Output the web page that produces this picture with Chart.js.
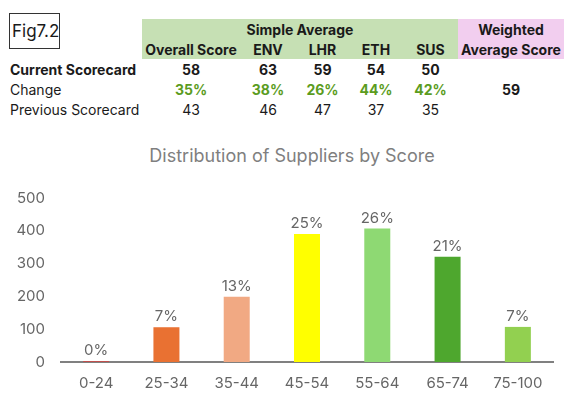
<!DOCTYPE html>
<html>
<head>
<meta charset="utf-8">
<script src="https://cdn.jsdelivr.net/npm/chart.js@4.4.1/dist/chart.umd.min.js"></script>
<style>
  html, body { margin: 0; padding: 0; background: #fff; }
  body { width: 588px; height: 400px; position: relative; overflow: hidden; font-family: Inter, "Liberation Sans", sans-serif; color: #1a1a1a; }
  #fig { position: absolute; left: 9px; top: 13px; width: 47px; height: 34px; border: 1px solid #333; font-size: 17px; line-height: 34px; padding-left: 2px; box-sizing: content-box; }
  #scores { position: absolute; left: 0; top: 19px; border-collapse: collapse; table-layout: fixed; font-size: 14px; }
  #scores td { padding: 0; height: 20px; text-align: center; white-space: nowrap; }
  #scores td.lab { text-align: left; padding-left: 10px; }
  #scores .g { background: #c6e0b4; font-weight: bold; }
  #scores .p { background: #f2ceef; font-weight: bold; }
  #scores .b { font-weight: bold; }
  #scores .up { color: #5b9c1e; font-weight: bold; }
  #title { position: absolute; left: 0; top: 145px; width: 584px; text-align: center; font-size: 18px; color: #7f7f7f; }
  #wrap { position: absolute; left: 0; top: 170px; width: 588px; height: 230px; }
</style>
</head>
<body>
<table id="scores">
  <colgroup>
    <col style="width:142px"><col style="width:98px"><col style="width:56px"><col style="width:53px">
    <col style="width:54px"><col style="width:55px"><col style="width:106px">
  </colgroup>
  <tbody id="tbody"></tbody>
</table>
<div id="fig">Fig7.2</div>
<div id="title">Distribution of Suppliers by Score</div>
<div id="wrap"><canvas id="distChart"></canvas></div>
<script>
// score table
const scoreHeads = ['Overall Score', 'ENV', 'LHR', 'ETH', 'SUS'];
const currentScores = [58, 63, 59, 54, 50];
const changePct = ['35%', '38%', '26%', '44%', '42%'];
const previousScores = [43, 46, 47, 37, 35];
const weightedScore = 59;

// bar chart
const scoreBands = ['0-24', '25-34', '35-44', '45-54', '55-64', '65-74', '75-100'];
const supplierCounts = [3, 106, 199, 390, 407, 321, 107];
const bandShares = ['0%', '7%', '13%', '25%', '26%', '21%', '7%'];
const bandColors = ['#c0504d', '#e97132', '#f1a983', '#ffff00', '#8ed973', '#4ea72e', '#92d050'];
const yTicks = [0, 100, 200, 300, 400, 500];

function cells(vals, cls) {
    return vals.map(v => `<td class="${cls}">${v}</td>`).join('');
}

const tbody = document.getElementById('tbody');
tbody.innerHTML =
    `<tr><td></td><td class="g" colspan="5">Simple Average</td><td class="p">Weighted</td></tr>` +
    `<tr><td></td>${cells(scoreHeads, 'g')}<td class="p">Average Score</td></tr>` +
    `<tr><td class="lab b">Current Scorecard</td>${cells(currentScores, 'b')}<td></td></tr>` +
    `<tr><td class="lab">Change</td>${cells(changePct, 'up')}<td class="b">${weightedScore}</td></tr>` +
    `<tr><td class="lab">Previous Scorecard</td>${cells(previousScores, '')}<td></td></tr>`;

// percentage labels above the bars
const shareLabels = {
    id: 'shareLabels',
    afterDatasetsDraw(chart) {
        const ctx = chart.ctx;
        const meta = chart.getDatasetMeta(0);
        ctx.save();
        ctx.font = '15px Inter, "Liberation Sans", sans-serif';
        ctx.fillStyle = '#666666';
        ctx.textAlign = 'center';
        ctx.textBaseline = 'bottom';
        meta.data.forEach((bar, i) => {
            ctx.fillText(bandShares[i], bar.x, bar.y - 3);
        });
        ctx.restore();
    }
};

const ctx = document.getElementById('distChart').getContext('2d');
const distChart = new Chart(ctx, {
    type: 'bar',
    data: {
        labels: scoreBands,
        datasets: [{
            data: supplierCounts,
            backgroundColor: bandColors,
            barPercentage: 0.37,
            categoryPercentage: 1
        }]
    },
    options: {
        responsive: true,
        maintainAspectRatio: false,
        animation: false,
        layout: { padding: { left: 0, right: 35, top: 28, bottom: 9 } },
        plugins: {
            legend: { display: false },
            tooltip: { enabled: false }
        },
        scales: {
            x: {
                afterFit(scale) {
                    scale.height = 29;
                },
                grid: { display: false, drawTicks: false },
                border: { display: true, color: '#808080', width: 2 },
                ticks: {
                    color: '#666666',
                    padding: 12,
                    font: { family: 'Inter, "Liberation Sans", sans-serif', size: 15 }
                }
            },
            y: {
                min: 0,
                max: 500,
                afterBuildTicks(scale) {
                    scale.ticks = yTicks.map(v => ({ value: v }));
                },
                afterFit(scale) {
                    scale.width = 61;
                },
                grid: { display: false, drawTicks: false },
                border: { display: false },
                ticks: {
                    color: '#666666',
                    padding: 16,
                    font: { family: 'Inter, "Liberation Sans", sans-serif', size: 15 }
                }
            }
        }
    },
    plugins: [shareLabels]
});
</script>
</body>
</html>
